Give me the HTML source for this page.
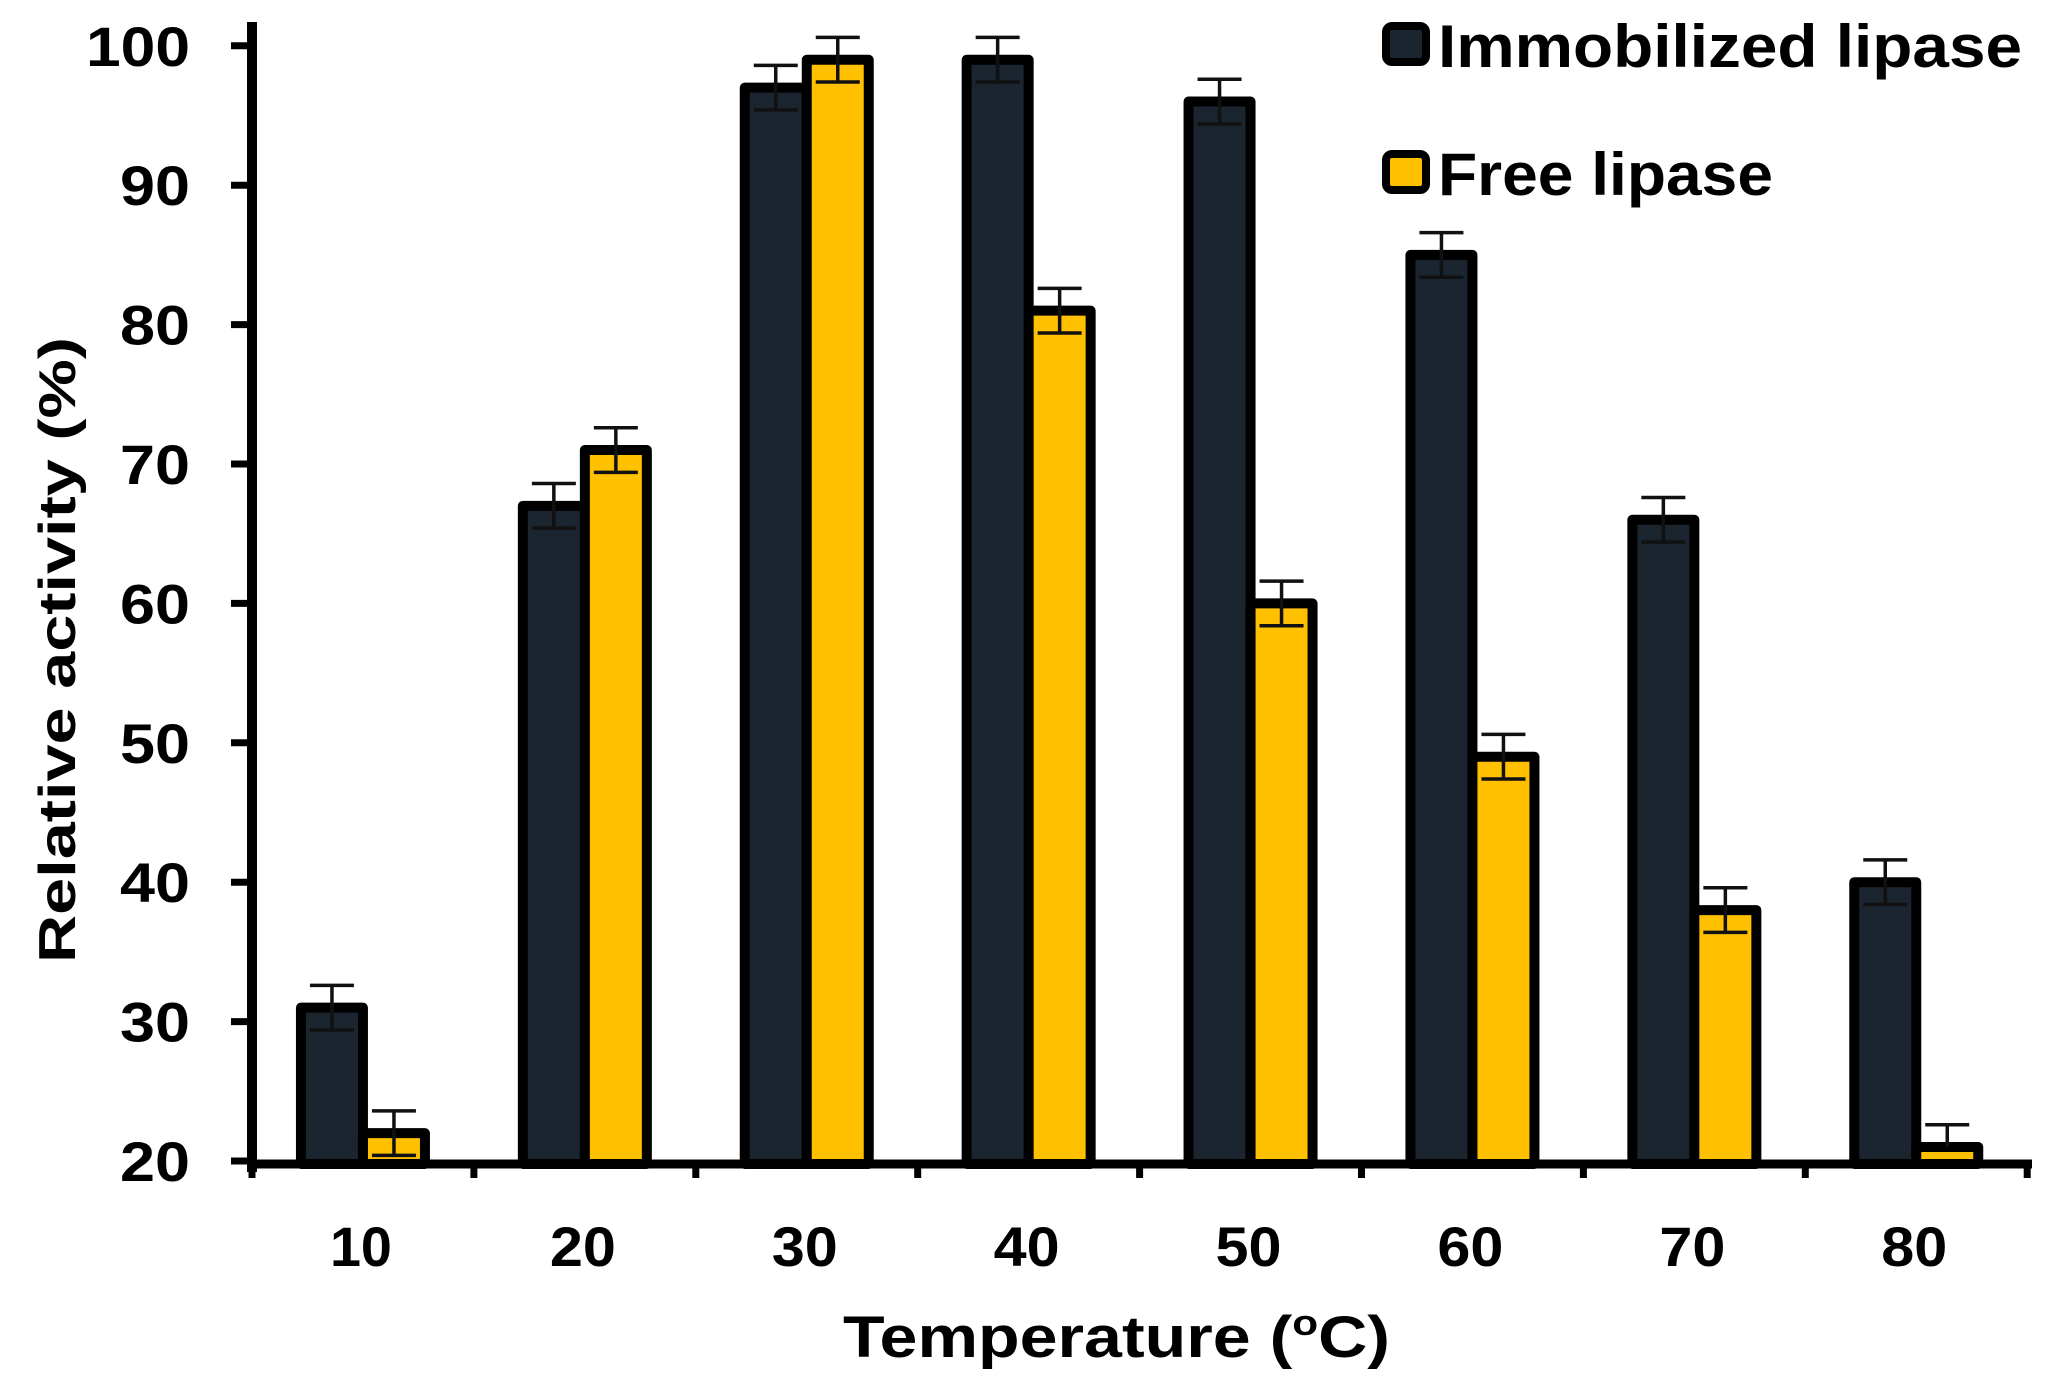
<!DOCTYPE html>
<html><head><meta charset="utf-8"><style>html,body{margin:0;padding:0;background:#fff}svg{display:block}</style></head>
<body>
<svg width="2057" height="1391" viewBox="0 0 2057 1391" xmlns="http://www.w3.org/2000/svg" font-family="Liberation Sans, Arial, sans-serif" font-weight="bold">
<rect width="2057" height="1391" fill="#fff"/>
<g id="bars" stroke="#000" stroke-width="10" stroke-linejoin="round"></g>
<g id="err" stroke="#111" stroke-width="3.5"></g>
<line x1="252" y1="22" x2="252" y2="1172" stroke="#000" stroke-width="10"/>
<line x1="248" y1="1164" x2="2032" y2="1164" stroke="#000" stroke-width="9"/>
<g id="ticks" stroke="#000" stroke-width="7"></g>
<g id="labels" font-size="56" fill="#000"></g>
<text transform="translate(75,650) rotate(-90)" text-anchor="middle" font-size="52" textLength="626" lengthAdjust="spacingAndGlyphs">Relative activity (%)</text>
<text x="843" y="1357" font-size="58" textLength="547" lengthAdjust="spacingAndGlyphs">Temperature (<tspan font-size="36" dy="-22">o</tspan><tspan dy="22">C)</tspan></text>
<rect x="1386" y="26" width="40" height="36" rx="6" fill="#1a2530" stroke="#000" stroke-width="8"/>
<text x="1438" y="67" font-size="60" textLength="584" lengthAdjust="spacingAndGlyphs">Immobilized lipase</text>
<rect x="1386" y="154" width="40" height="36" rx="6" fill="#ffc000" stroke="#000" stroke-width="8"/>
<text x="1438" y="195" font-size="60" textLength="335" lengthAdjust="spacingAndGlyphs">Free lipase</text>
<script>
(function(){
var ns="http://www.w3.org/2000/svg";
function el(p,t,a){var e=document.createElementNS(ns,t);for(var k in a)e.setAttribute(k,a[k]);p.appendChild(e);return e;}
var y=function(v){return 1161-(v-20)*13.94;};
var imm=[31,67,97,99,96,85,66,40], fr=[22,71,99,81,60,49,38,21];
var bars=document.getElementById('bars'),err=document.getElementById('err'),ticks=document.getElementById('ticks'),lab=document.getElementById('labels');
for(var i=0;i<8;i++){
 var c=252+221.9*(i+0.5);
 el(bars,'rect',{x:c-62,y:y(imm[i]),width:62,height:1164-y(imm[i]),fill:'#1a2530'});
 el(bars,'rect',{x:c,y:y(fr[i]),width:62,height:1164-y(fr[i]),fill:'#ffc000'});
 [[c-31,imm[i]],[c+31,fr[i]]].forEach(function(p){
  var t=y(p[1]+1.6),b=y(p[1]-1.6);
  if(p[1]<22){b=y(p[1]);}
  el(err,'line',{x1:p[0],y1:t,x2:p[0],y2:b});
  el(err,'line',{x1:p[0]-22,y1:t,x2:p[0]+22,y2:t});
  if(p[1]>=22) el(err,'line',{x1:p[0]-22,y1:b,x2:p[0]+22,y2:b});
 });
 var tx=el(lab,'text',{x:c-2,y:1266,'text-anchor':'middle',textLength:i==0?62:66,lengthAdjust:'spacingAndGlyphs'});tx.textContent=(i+1)*10;
}
for(var k=0;k<=8;k++){var x=252+221.9*k;el(ticks,'line',{x1:x,y1:1164,x2:x,y2:1178});}
for(var v=20;v<=100;v+=10){
 el(ticks,'line',{x1:231,y1:y(v),x2:252,y2:y(v)});
 var t=el(lab,'text',{x:190,y:y(v)+20,'text-anchor':'end',textLength:v==100?104:70,lengthAdjust:'spacingAndGlyphs'});t.textContent=v;
}
})();
</script>
</svg>
</body></html>
